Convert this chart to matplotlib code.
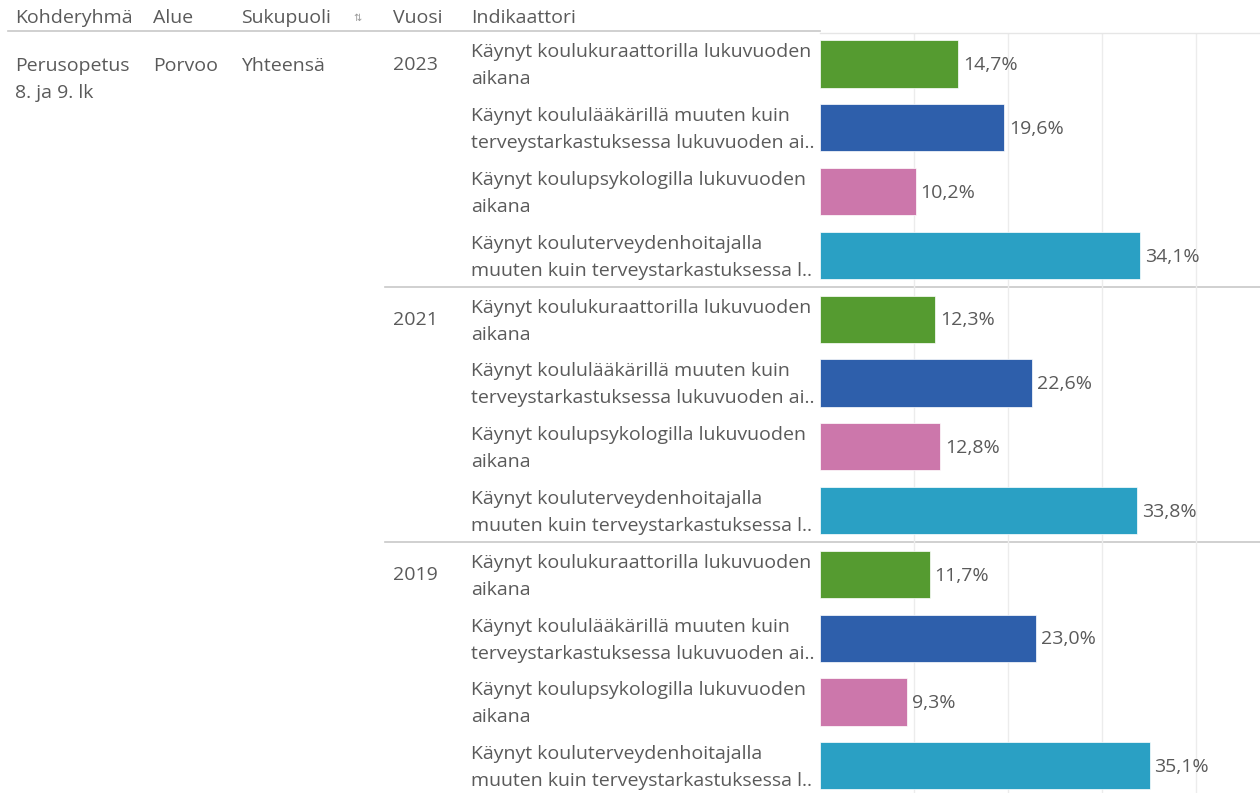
import matplotlib
matplotlib.use("Agg")
import matplotlib.pyplot as plt

# data
years = ["2023", "2021", "2019"]
indicators = [
    ("Käynyt koulukuraattorilla lukuvuoden", "aikana"),
    ("Käynyt koululääkärillä muuten kuin", "terveystarkastuksessa lukuvuoden ai.."),
    ("Käynyt koulupsykologilla lukuvuoden", "aikana"),
    ("Käynyt kouluterveydenhoitajalla", "muuten kuin terveystarkastuksessa l.."),
]
values_2023 = [14.7, 19.6, 10.2, 34.1]
values_2021 = [12.3, 22.6, 12.8, 33.8]
values_2019 = [11.7, 23.0, 9.3, 35.1]
colors = ["#559b30", "#2e5fab", "#cc77ab", "#2aa0c4"]

plt.rcParams["font.family"] = ["Open Sans", "DejaVu Sans"]
txt = "#5a5a5a"
fs = 14

W, H = 1260, 793
fig = plt.figure(figsize=(W / 100, H / 100), dpi=100)

pitch = 63.8
y0 = 64  # pixel center of first row
top_px = 33
ylim = ((H - y0) / pitch, (top_px - y0) / pitch)  # inverted

# text axes over whole width (pixel x), same rows as bars
axt = fig.add_axes([0, 0, 1, (H - top_px) / H])
axt.set_xlim(0, W)
axt.set_ylim(*ylim)
axt.axis("off")

x0 = 820
ax = fig.add_axes([x0 / W, 0, (W - x0) / W, (H - top_px) / H])
ax.set_xlim(0, (W - x0) / 9.39)
ax.set_ylim(*ylim)
ax.patch.set_alpha(0)
for s in ax.spines.values():
    s.set_visible(False)
ax.set_xticks([10, 20, 30, 40])
ax.set_xticklabels([])
ax.set_yticks([])
ax.tick_params(length=0)
ax.grid(axis="x", color="#ececec", lw=1)
ax.set_axisbelow(True)

all_vals = [values_2023, values_2021, values_2019]
row = 0
for g, (yr, vals) in enumerate(zip(years, all_vals)):
    axt.text(393, row + 1 / pitch, yr, fontsize=fs, color=txt, va="center", ha="left")
    if g > 0:
        axt.plot([385, W], [row - 0.5, row - 0.5], color="#c8c8c8", lw=1.2)
    for i, v in enumerate(vals):
        ax.barh(row, v, height=0.74, color=colors[i], edgecolor="white", lw=0.5)
        ax.text(v + 0.5, row + 0.02, f"{v:.1f}%".replace(".", ","), fontsize=fs,
                color=txt, va="center", ha="left")
        l1, l2 = indicators[i]
        axt.text(471, row - 11.5 / pitch, l1, fontsize=fs, color=txt, va="center")
        axt.text(471, row + 15.5 / pitch, l2, fontsize=fs, color=txt, va="center")
        row += 1

# left dimension columns
axt.text(15, 2 / pitch, "Perusopetus", fontsize=fs, color=txt, va="center")
axt.text(15, 29 / pitch, "8. ja 9. lk", fontsize=fs, color=txt, va="center")
axt.text(153, 2 / pitch, "Porvoo", fontsize=fs, color=txt, va="center")
axt.text(241, 2 / pitch, "Yhteensä", fontsize=fs, color=txt, va="center")

# header
hy = 1 - 18 / H
for x, lab in [(15, "Kohderyhmä"), (153, "Alue"), (241, "Sukupuoli"),
               (393, "Vuosi"), (471, "Indikaattori")]:
    fig.text(x / W, hy, lab, fontsize=fs, color=txt, va="center", ha="left")
fig.text(357 / W, hy, "\u21c5", fontsize=7, color="#999999", va="center", ha="center",
         family="DejaVu Sans")
fig.add_artist(plt.Line2D([8 / W, x0 / W], [1 - 31 / H, 1 - 31 / H],
                          color="#c8c8c8", lw=1.2))
fig.add_artist(plt.Line2D([x0 / W, 1], [1 - 33 / H, 1 - 33 / H],
                          color="#e6e6e6", lw=1))

fig.savefig("out.png", dpi=100)
